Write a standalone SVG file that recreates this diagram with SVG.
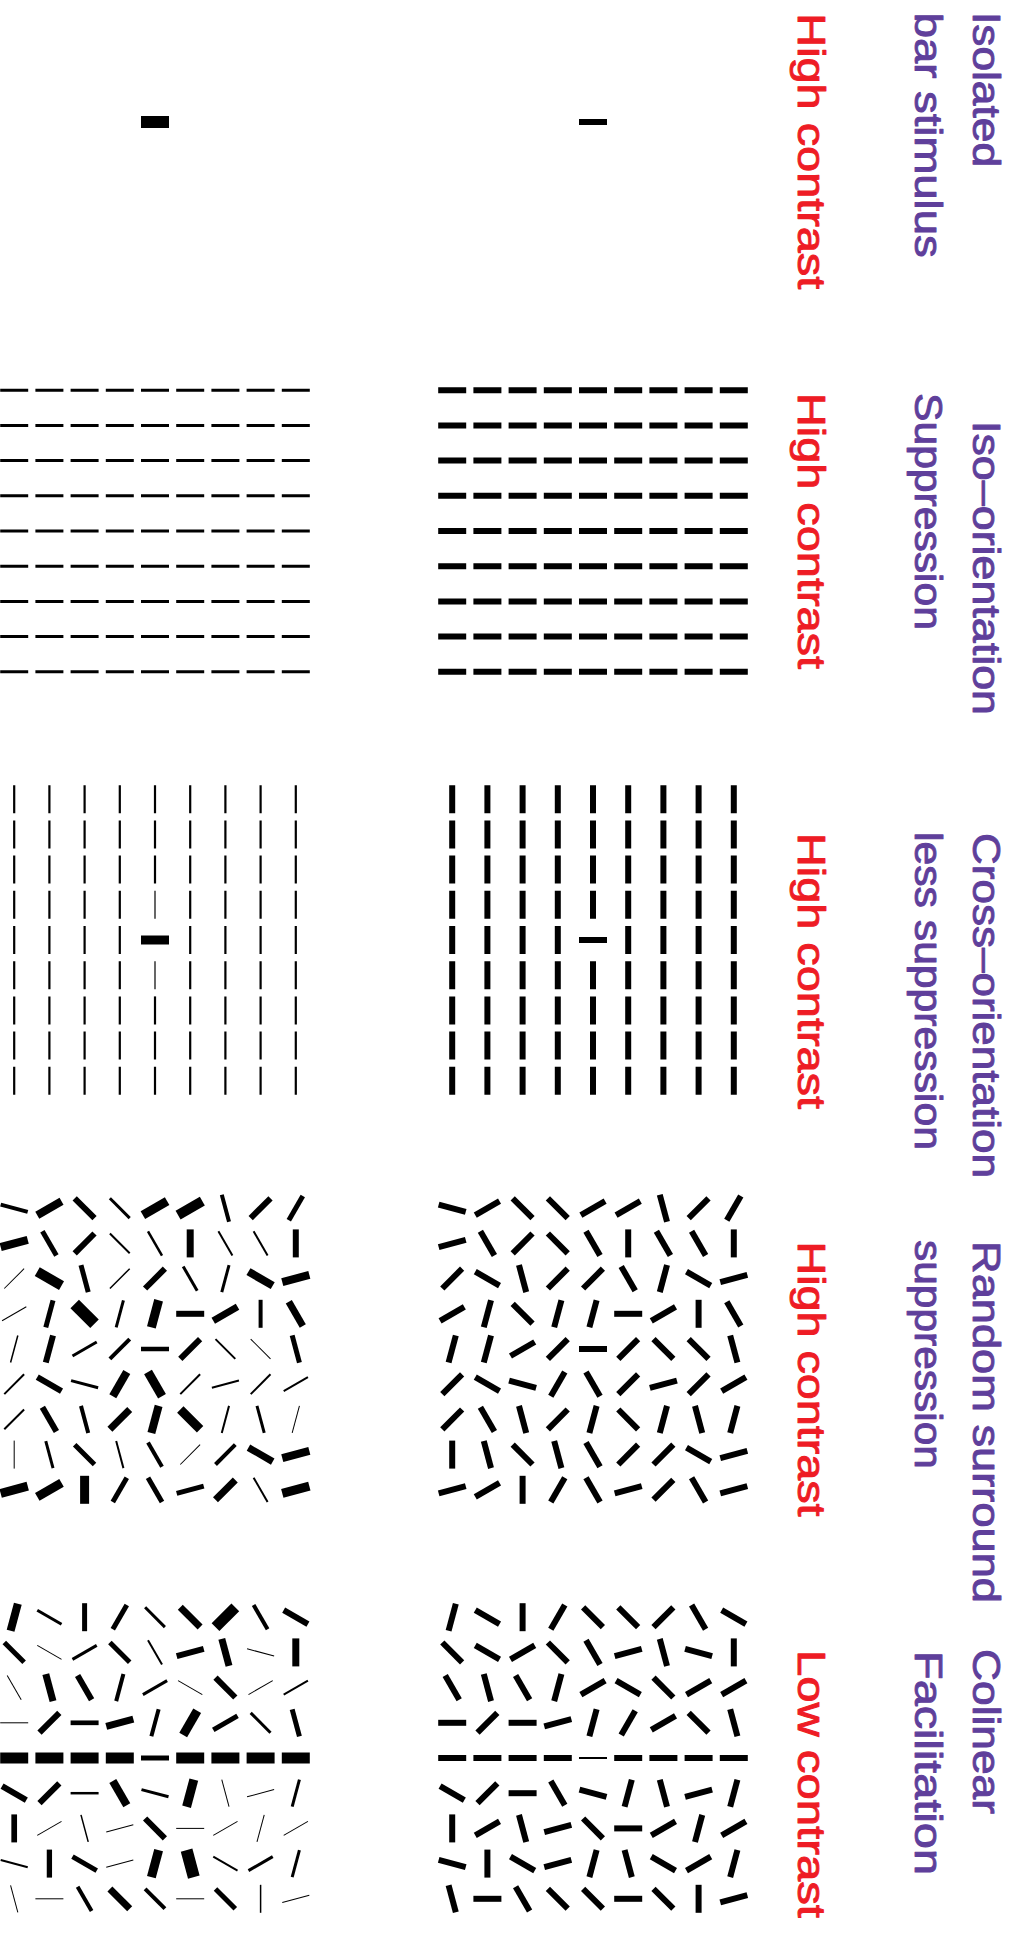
<svg xmlns="http://www.w3.org/2000/svg" xmlns:xlink="http://www.w3.org/1999/xlink" width="1012" height="1944" viewBox="0 0 1012 1944">
<style>
.t{font-family:"Liberation Sans",Arial,sans-serif;font-size:38px;stroke-width:0.9px;stroke-linejoin:round}
.p{fill:#5f3f9b;stroke:#5f3f9b}
.r{fill:#ee1c25;stroke:#ee1c25}
.g{stroke:#000;stroke-linecap:butt;fill:none}
.d{stroke-dasharray:28 7.2}
</style>
<defs><line id="s" x1="-14" y1="0" x2="14" y2="0"/></defs>
<rect width="1012" height="1944" fill="#fff"/>

<g id="labels">
<text class="t p" transform="translate(973,12) rotate(90)" textLength="155" lengthAdjust="spacingAndGlyphs">Isolated</text>
<text class="t p" transform="translate(915,12.7) rotate(90)" textLength="245" lengthAdjust="spacingAndGlyphs">bar stimulus</text>
<text class="t r" transform="translate(798,13.3) rotate(90)" textLength="276" lengthAdjust="spacingAndGlyphs">High contrast</text>
<text class="t p" transform="translate(973,421) rotate(90)" textLength="294" lengthAdjust="spacingAndGlyphs">Iso–orientation</text>
<text class="t p" transform="translate(915,393) rotate(90)" textLength="237" lengthAdjust="spacingAndGlyphs">Suppression</text>
<text class="t r" transform="translate(798,393) rotate(90)" textLength="276" lengthAdjust="spacingAndGlyphs">High contrast</text>
<text class="t p" transform="translate(973,833) rotate(90)" textLength="345" lengthAdjust="spacingAndGlyphs">Cross–orientation</text>
<text class="t p" transform="translate(915,832) rotate(90)" textLength="318" lengthAdjust="spacingAndGlyphs">less suppression</text>
<text class="t r" transform="translate(798,833) rotate(90)" textLength="276" lengthAdjust="spacingAndGlyphs">High contrast</text>
<text class="t p" transform="translate(973,1241) rotate(90)" textLength="362" lengthAdjust="spacingAndGlyphs">Random surround</text>
<text class="t p" transform="translate(915,1240) rotate(90)" textLength="229" lengthAdjust="spacingAndGlyphs">suppression</text>
<text class="t r" transform="translate(798,1241.5) rotate(90)" textLength="275" lengthAdjust="spacingAndGlyphs">High contrast</text>
<text class="t p" transform="translate(973,1649) rotate(90)" textLength="165" lengthAdjust="spacingAndGlyphs">Colinear</text>
<text class="t p" transform="translate(915,1651) rotate(90)" textLength="224" lengthAdjust="spacingAndGlyphs">Facilitation</text>
<text class="t r" transform="translate(798,1650) rotate(90)" textLength="268" lengthAdjust="spacingAndGlyphs">Low contrast</text>
</g>

<g id="panel1" class="g">
<line x1="141" y1="122" x2="169" y2="122" stroke-width="12"/>
<line x1="579" y1="122" x2="607" y2="122" stroke-width="6"/>
</g>

<g id="panel2" class="g d">
<g stroke-width="3">
<line x1="0.2" y1="390.2" x2="309.8" y2="390.2"/>
<line x1="0.2" y1="425.4" x2="309.8" y2="425.4"/>
<line x1="0.2" y1="460.6" x2="309.8" y2="460.6"/>
<line x1="0.2" y1="495.8" x2="309.8" y2="495.8"/>
<line x1="0.2" y1="531" x2="309.8" y2="531"/>
<line x1="0.2" y1="566.2" x2="309.8" y2="566.2"/>
<line x1="0.2" y1="601.4" x2="309.8" y2="601.4"/>
<line x1="0.2" y1="636.6" x2="309.8" y2="636.6"/>
<line x1="0.2" y1="671.8" x2="309.8" y2="671.8"/>
</g>
<g stroke-width="6">
<line x1="438.2" y1="390.2" x2="747.8" y2="390.2"/>
<line x1="438.2" y1="425.4" x2="747.8" y2="425.4"/>
<line x1="438.2" y1="460.6" x2="747.8" y2="460.6"/>
<line x1="438.2" y1="495.8" x2="747.8" y2="495.8"/>
<line x1="438.2" y1="531" x2="747.8" y2="531"/>
<line x1="438.2" y1="566.2" x2="747.8" y2="566.2"/>
<line x1="438.2" y1="601.4" x2="747.8" y2="601.4"/>
<line x1="438.2" y1="636.6" x2="747.8" y2="636.6"/>
<line x1="438.2" y1="671.8" x2="747.8" y2="671.8"/>
</g>
</g>

<g id="panel3" class="g">
<g class="d" stroke-width="2.2">
<line x1="14.2" y1="785.2" x2="14.2" y2="1094.8"/>
<line x1="49.4" y1="785.2" x2="49.4" y2="1094.8"/>
<line x1="84.6" y1="785.2" x2="84.6" y2="1094.8"/>
<line x1="119.8" y1="785.2" x2="119.8" y2="1094.8"/>
<line x1="190.2" y1="785.2" x2="190.2" y2="1094.8"/>
<line x1="225.4" y1="785.2" x2="225.4" y2="1094.8"/>
<line x1="260.6" y1="785.2" x2="260.6" y2="1094.8"/>
<line x1="295.8" y1="785.2" x2="295.8" y2="1094.8"/>
<line x1="155" y1="785.2" x2="155" y2="883.6"/>
<line x1="155" y1="996.4" x2="155" y2="1094.8"/>
</g>
<line x1="155" y1="890.8" x2="155" y2="918.8" stroke-width="1.2"/>
<line x1="155" y1="961.2" x2="155" y2="989.2" stroke-width="1.2"/>
<line x1="141" y1="940" x2="169" y2="940" stroke-width="9"/>
<g class="d" stroke-width="6">
<line x1="452.2" y1="785.2" x2="452.2" y2="1094.8"/>
<line x1="487.4" y1="785.2" x2="487.4" y2="1094.8"/>
<line x1="522.6" y1="785.2" x2="522.6" y2="1094.8"/>
<line x1="557.8" y1="785.2" x2="557.8" y2="1094.8"/>
<line x1="628.2" y1="785.2" x2="628.2" y2="1094.8"/>
<line x1="663.4" y1="785.2" x2="663.4" y2="1094.8"/>
<line x1="698.6" y1="785.2" x2="698.6" y2="1094.8"/>
<line x1="733.8" y1="785.2" x2="733.8" y2="1094.8"/>
<line x1="593" y1="785.2" x2="593" y2="918.8"/>
<line x1="593" y1="961.2" x2="593" y2="1094.8"/>
</g>
<line x1="579" y1="940" x2="607" y2="940" stroke-width="6"/>
</g>

<g id="panel4" class="g">
<g id="p4right" stroke-width="6">
<use href="#s" transform="translate(452.2,1208.2) rotate(15)"/><use href="#s" transform="translate(487.4,1208.2) rotate(-30)"/><use href="#s" transform="translate(522.6,1208.2) rotate(45)"/><use href="#s" transform="translate(557.8,1208.2) rotate(45)"/><use href="#s" transform="translate(593,1208.2) rotate(-30)"/><use href="#s" transform="translate(628.2,1208.2) rotate(-30)"/><use href="#s" transform="translate(663.4,1208.2) rotate(75)"/><use href="#s" transform="translate(698.6,1208.2) rotate(-45)"/><use href="#s" transform="translate(733.8,1208.2) rotate(-60)"/>
<use href="#s" transform="translate(452.2,1243.4) rotate(-15)"/><use href="#s" transform="translate(487.4,1243.4) rotate(60)"/><use href="#s" transform="translate(522.6,1243.4) rotate(-45)"/><use href="#s" transform="translate(557.8,1243.4) rotate(45)"/><use href="#s" transform="translate(593,1243.4) rotate(60)"/><use href="#s" transform="translate(628.2,1243.4) rotate(90)"/><use href="#s" transform="translate(663.4,1243.4) rotate(60)"/><use href="#s" transform="translate(698.6,1243.4) rotate(60)"/><use href="#s" transform="translate(733.8,1243.4) rotate(90)"/>
<use href="#s" transform="translate(452.2,1278.6) rotate(-45)"/><use href="#s" transform="translate(487.4,1278.6) rotate(30)"/><use href="#s" transform="translate(522.6,1278.6) rotate(75)"/><use href="#s" transform="translate(557.8,1278.6) rotate(-45)"/><use href="#s" transform="translate(593,1278.6) rotate(-45)"/><use href="#s" transform="translate(628.2,1278.6) rotate(60)"/><use href="#s" transform="translate(663.4,1278.6) rotate(-75)"/><use href="#s" transform="translate(698.6,1278.6) rotate(30)"/><use href="#s" transform="translate(733.8,1278.6) rotate(-15)"/>
<use href="#s" transform="translate(452.2,1313.8) rotate(-30)"/><use href="#s" transform="translate(487.4,1313.8) rotate(-75)"/><use href="#s" transform="translate(522.6,1313.8) rotate(45)"/><use href="#s" transform="translate(557.8,1313.8) rotate(-75)"/><use href="#s" transform="translate(593,1313.8) rotate(-75)"/><use href="#s" transform="translate(628.2,1313.8)"/><use href="#s" transform="translate(663.4,1313.8) rotate(-30)"/><use href="#s" transform="translate(698.6,1313.8) rotate(90)"/><use href="#s" transform="translate(733.8,1313.8) rotate(60)"/>
<use href="#s" transform="translate(452.2,1349) rotate(-75)"/><use href="#s" transform="translate(487.4,1349) rotate(-75)"/><use href="#s" transform="translate(522.6,1349) rotate(-30)"/><use href="#s" transform="translate(557.8,1349) rotate(-45)"/><use href="#s" transform="translate(593,1349)"/><use href="#s" transform="translate(628.2,1349) rotate(-45)"/><use href="#s" transform="translate(663.4,1349) rotate(45)"/><use href="#s" transform="translate(698.6,1349) rotate(45)"/><use href="#s" transform="translate(733.8,1349) rotate(75)"/>
<use href="#s" transform="translate(452.2,1384.2) rotate(-45)"/><use href="#s" transform="translate(487.4,1384.2) rotate(30)"/><use href="#s" transform="translate(522.6,1384.2) rotate(15)"/><use href="#s" transform="translate(557.8,1384.2) rotate(-60)"/><use href="#s" transform="translate(593,1384.2) rotate(60)"/><use href="#s" transform="translate(628.2,1384.2) rotate(-45)"/><use href="#s" transform="translate(663.4,1384.2) rotate(-15)"/><use href="#s" transform="translate(698.6,1384.2) rotate(-45)"/><use href="#s" transform="translate(733.8,1384.2) rotate(-30)"/>
<use href="#s" transform="translate(452.2,1419.4) rotate(-45)"/><use href="#s" transform="translate(487.4,1419.4) rotate(60)"/><use href="#s" transform="translate(522.6,1419.4) rotate(75)"/><use href="#s" transform="translate(557.8,1419.4) rotate(-45)"/><use href="#s" transform="translate(593,1419.4) rotate(-75)"/><use href="#s" transform="translate(628.2,1419.4) rotate(45)"/><use href="#s" transform="translate(663.4,1419.4) rotate(-75)"/><use href="#s" transform="translate(698.6,1419.4) rotate(75)"/><use href="#s" transform="translate(733.8,1419.4) rotate(-75)"/>
<use href="#s" transform="translate(452.2,1454.6) rotate(90)"/><use href="#s" transform="translate(487.4,1454.6) rotate(75)"/><use href="#s" transform="translate(522.6,1454.6) rotate(45)"/><use href="#s" transform="translate(557.8,1454.6) rotate(75)"/><use href="#s" transform="translate(593,1454.6) rotate(60)"/><use href="#s" transform="translate(628.2,1454.6) rotate(-45)"/><use href="#s" transform="translate(663.4,1454.6) rotate(-45)"/><use href="#s" transform="translate(698.6,1454.6) rotate(30)"/><use href="#s" transform="translate(733.8,1454.6) rotate(-15)"/>
<use href="#s" transform="translate(452.2,1489.8) rotate(-15)"/><use href="#s" transform="translate(487.4,1489.8) rotate(-30)"/><use href="#s" transform="translate(522.6,1489.8) rotate(90)"/><use href="#s" transform="translate(557.8,1489.8) rotate(-60)"/><use href="#s" transform="translate(593,1489.8) rotate(60)"/><use href="#s" transform="translate(628.2,1489.8) rotate(-15)"/><use href="#s" transform="translate(663.4,1489.8) rotate(-45)"/><use href="#s" transform="translate(698.6,1489.8) rotate(60)"/><use href="#s" transform="translate(733.8,1489.8) rotate(-15)"/>
</g>
<g id="p4left">
<use href="#s" stroke-width="4" transform="translate(14.2,1208.2) rotate(15)"/><use href="#s" stroke-width="8" transform="translate(49.4,1208.2) rotate(-30)"/><use href="#s" stroke-width="6" transform="translate(84.6,1208.2) rotate(45)"/><use href="#s" stroke-width="3" transform="translate(119.8,1208.2) rotate(45)"/><use href="#s" stroke-width="9" transform="translate(155,1208.2) rotate(-30)"/><use href="#s" stroke-width="10" transform="translate(190.2,1208.2) rotate(-30)"/><use href="#s" stroke-width="4" transform="translate(225.4,1208.2) rotate(75)"/><use href="#s" stroke-width="6" transform="translate(260.6,1208.2) rotate(-45)"/><use href="#s" stroke-width="5" transform="translate(295.8,1208.2) rotate(-60)"/>
<use href="#s" stroke-width="8" transform="translate(14.2,1243.4) rotate(-15)"/><use href="#s" stroke-width="5" transform="translate(49.4,1243.4) rotate(60)"/><use href="#s" stroke-width="6" transform="translate(84.6,1243.4) rotate(-45)"/><use href="#s" stroke-width="2" transform="translate(119.8,1243.4) rotate(45)"/><use href="#s" stroke-width="2.5" transform="translate(155,1243.4) rotate(60)"/><use href="#s" stroke-width="7" transform="translate(190.2,1243.4) rotate(90)"/><use href="#s" stroke-width="2" transform="translate(225.4,1243.4) rotate(60)"/><use href="#s" stroke-width="2" transform="translate(260.6,1243.4) rotate(60)"/><use href="#s" stroke-width="6" transform="translate(295.8,1243.4) rotate(90)"/>
<use href="#s" stroke-width="1" transform="translate(14.2,1278.6) rotate(-45)"/><use href="#s" stroke-width="10" transform="translate(49.4,1278.6) rotate(30)"/><use href="#s" stroke-width="5" transform="translate(84.6,1278.6) rotate(75)"/><use href="#s" stroke-width="1.5" transform="translate(119.8,1278.6) rotate(-45)"/><use href="#s" stroke-width="6" transform="translate(155,1278.6) rotate(-45)"/><use href="#s" stroke-width="3" transform="translate(190.2,1278.6) rotate(60)"/><use href="#s" stroke-width="3" transform="translate(225.4,1278.6) rotate(-75)"/><use href="#s" stroke-width="8" transform="translate(260.6,1278.6) rotate(30)"/><use href="#s" stroke-width="8" transform="translate(295.8,1278.6) rotate(-15)"/>
<use href="#s" stroke-width="1" transform="translate(14.2,1313.8) rotate(-30)"/><use href="#s" stroke-width="5" transform="translate(49.4,1313.8) rotate(-75)"/><use href="#s" stroke-width="12" transform="translate(84.6,1313.8) rotate(45)"/><use href="#s" stroke-width="3" transform="translate(119.8,1313.8) rotate(-75)"/><use href="#s" stroke-width="9" transform="translate(155,1313.8) rotate(-75)"/><use href="#s" stroke-width="6" transform="translate(190.2,1313.8)"/><use href="#s" stroke-width="7" transform="translate(225.4,1313.8) rotate(-30)"/><use href="#s" stroke-width="4" transform="translate(260.6,1313.8) rotate(90)"/><use href="#s" stroke-width="7" transform="translate(295.8,1313.8) rotate(60)"/>
<use href="#s" stroke-width="1.5" transform="translate(14.2,1349) rotate(-75)"/><use href="#s" stroke-width="6" transform="translate(49.4,1349) rotate(-75)"/><use href="#s" stroke-width="3" transform="translate(84.6,1349) rotate(-30)"/><use href="#s" stroke-width="4" transform="translate(119.8,1349) rotate(-45)"/><use href="#s" stroke-width="4.5" transform="translate(155,1349)"/><use href="#s" stroke-width="6" transform="translate(190.2,1349) rotate(-45)"/><use href="#s" stroke-width="2" transform="translate(225.4,1349) rotate(45)"/><use href="#s" stroke-width="1" transform="translate(260.6,1349) rotate(45)"/><use href="#s" stroke-width="5" transform="translate(295.8,1349) rotate(75)"/>
<use href="#s" stroke-width="2" transform="translate(14.2,1384.2) rotate(-45)"/><use href="#s" stroke-width="6" transform="translate(49.4,1384.2) rotate(30)"/><use href="#s" stroke-width="3" transform="translate(84.6,1384.2) rotate(15)"/><use href="#s" stroke-width="8" transform="translate(119.8,1384.2) rotate(-60)"/><use href="#s" stroke-width="9" transform="translate(155,1384.2) rotate(60)"/><use href="#s" stroke-width="2" transform="translate(190.2,1384.2) rotate(-45)"/><use href="#s" stroke-width="2" transform="translate(225.4,1384.2) rotate(-15)"/><use href="#s" stroke-width="2" transform="translate(260.6,1384.2) rotate(-45)"/><use href="#s" stroke-width="2" transform="translate(295.8,1384.2) rotate(-30)"/>
<use href="#s" stroke-width="2" transform="translate(14.2,1419.4) rotate(-45)"/><use href="#s" stroke-width="6" transform="translate(49.4,1419.4) rotate(60)"/><use href="#s" stroke-width="4" transform="translate(84.6,1419.4) rotate(75)"/><use href="#s" stroke-width="7" transform="translate(119.8,1419.4) rotate(-45)"/><use href="#s" stroke-width="8" transform="translate(155,1419.4) rotate(-75)"/><use href="#s" stroke-width="9" transform="translate(190.2,1419.4) rotate(45)"/><use href="#s" stroke-width="2" transform="translate(225.4,1419.4) rotate(-75)"/><use href="#s" stroke-width="3" transform="translate(260.6,1419.4) rotate(75)"/><use href="#s" stroke-width="1" transform="translate(295.8,1419.4) rotate(-75)"/>
<use href="#s" stroke-width="1" transform="translate(14.2,1454.6) rotate(90)"/><use href="#s" stroke-width="3" transform="translate(49.4,1454.6) rotate(75)"/><use href="#s" stroke-width="5" transform="translate(84.6,1454.6) rotate(45)"/><use href="#s" stroke-width="2" transform="translate(119.8,1454.6) rotate(75)"/><use href="#s" stroke-width="4" transform="translate(155,1454.6) rotate(60)"/><use href="#s" stroke-width="1" transform="translate(190.2,1454.6) rotate(-45)"/><use href="#s" stroke-width="4" transform="translate(225.4,1454.6) rotate(-45)"/><use href="#s" stroke-width="7" transform="translate(260.6,1454.6) rotate(30)"/><use href="#s" stroke-width="8" transform="translate(295.8,1454.6) rotate(-15)"/>
<use href="#s" stroke-width="9" transform="translate(14.2,1489.8) rotate(-15)"/><use href="#s" stroke-width="9" transform="translate(49.4,1489.8) rotate(-30)"/><use href="#s" stroke-width="9" transform="translate(84.6,1489.8) rotate(90)"/><use href="#s" stroke-width="5" transform="translate(119.8,1489.8) rotate(-60)"/><use href="#s" stroke-width="5" transform="translate(155,1489.8) rotate(60)"/><use href="#s" stroke-width="5" transform="translate(190.2,1489.8) rotate(-15)"/><use href="#s" stroke-width="7" transform="translate(225.4,1489.8) rotate(-45)"/><use href="#s" stroke-width="2" transform="translate(260.6,1489.8) rotate(60)"/><use href="#s" stroke-width="9" transform="translate(295.8,1489.8) rotate(-15)"/>
</g>
</g>

<g id="panel5" class="g">
<g id="p5right" stroke-width="6">
<use href="#s" transform="translate(452.2,1617.2) rotate(-75)"/><use href="#s" transform="translate(487.4,1617.2) rotate(30)"/><use href="#s" transform="translate(522.6,1617.2) rotate(90)"/><use href="#s" transform="translate(557.8,1617.2) rotate(-60)"/><use href="#s" transform="translate(593,1617.2) rotate(45)"/><use href="#s" transform="translate(628.2,1617.2) rotate(45)"/><use href="#s" transform="translate(663.4,1617.2) rotate(-45)"/><use href="#s" transform="translate(698.6,1617.2) rotate(60)"/><use href="#s" transform="translate(733.8,1617.2) rotate(30)"/>
<use href="#s" transform="translate(452.2,1652.4) rotate(45)"/><use href="#s" transform="translate(487.4,1652.4) rotate(30)"/><use href="#s" transform="translate(522.6,1652.4) rotate(-30)"/><use href="#s" transform="translate(557.8,1652.4) rotate(45)"/><use href="#s" transform="translate(593,1652.4) rotate(60)"/><use href="#s" transform="translate(628.2,1652.4) rotate(-15)"/><use href="#s" transform="translate(663.4,1652.4) rotate(75)"/><use href="#s" transform="translate(698.6,1652.4) rotate(15)"/><use href="#s" transform="translate(733.8,1652.4) rotate(90)"/>
<use href="#s" transform="translate(452.2,1687.6) rotate(60)"/><use href="#s" transform="translate(487.4,1687.6) rotate(75)"/><use href="#s" transform="translate(522.6,1687.6) rotate(60)"/><use href="#s" transform="translate(557.8,1687.6) rotate(-75)"/><use href="#s" transform="translate(593,1687.6) rotate(-30)"/><use href="#s" transform="translate(628.2,1687.6) rotate(30)"/><use href="#s" transform="translate(663.4,1687.6) rotate(45)"/><use href="#s" transform="translate(698.6,1687.6) rotate(-30)"/><use href="#s" transform="translate(733.8,1687.6) rotate(-30)"/>
<use href="#s" transform="translate(452.2,1722.8)"/><use href="#s" transform="translate(487.4,1722.8) rotate(-45)"/><use href="#s" transform="translate(522.6,1722.8)"/><use href="#s" transform="translate(557.8,1722.8) rotate(-15)"/><use href="#s" transform="translate(593,1722.8) rotate(-75)"/><use href="#s" transform="translate(628.2,1722.8) rotate(-60)"/><use href="#s" transform="translate(663.4,1722.8) rotate(-30)"/><use href="#s" transform="translate(698.6,1722.8) rotate(45)"/><use href="#s" transform="translate(733.8,1722.8) rotate(75)"/>
<use href="#s" transform="translate(452.2,1758)"/><use href="#s" transform="translate(487.4,1758)"/><use href="#s" transform="translate(522.6,1758)"/><use href="#s" transform="translate(557.8,1758)"/><use href="#s" stroke-width="2" transform="translate(593,1758)"/><use href="#s" transform="translate(628.2,1758)"/><use href="#s" transform="translate(663.4,1758)"/><use href="#s" transform="translate(698.6,1758)"/><use href="#s" transform="translate(733.8,1758)"/>
<use href="#s" transform="translate(452.2,1793.2) rotate(30)"/><use href="#s" transform="translate(487.4,1793.2) rotate(-45)"/><use href="#s" transform="translate(522.6,1793.2)"/><use href="#s" transform="translate(557.8,1793.2) rotate(60)"/><use href="#s" transform="translate(593,1793.2) rotate(15)"/><use href="#s" transform="translate(628.2,1793.2) rotate(-75)"/><use href="#s" transform="translate(663.4,1793.2) rotate(75)"/><use href="#s" transform="translate(698.6,1793.2) rotate(-15)"/><use href="#s" transform="translate(733.8,1793.2) rotate(-75)"/>
<use href="#s" transform="translate(452.2,1828.4) rotate(90)"/><use href="#s" transform="translate(487.4,1828.4) rotate(-30)"/><use href="#s" transform="translate(522.6,1828.4) rotate(75)"/><use href="#s" transform="translate(557.8,1828.4) rotate(-15)"/><use href="#s" transform="translate(593,1828.4) rotate(45)"/><use href="#s" transform="translate(628.2,1828.4)"/><use href="#s" transform="translate(663.4,1828.4) rotate(-30)"/><use href="#s" transform="translate(698.6,1828.4) rotate(-75)"/><use href="#s" transform="translate(733.8,1828.4) rotate(-30)"/>
<use href="#s" transform="translate(452.2,1863.6) rotate(15)"/><use href="#s" transform="translate(487.4,1863.6) rotate(90)"/><use href="#s" transform="translate(522.6,1863.6) rotate(30)"/><use href="#s" transform="translate(557.8,1863.6) rotate(-15)"/><use href="#s" transform="translate(593,1863.6) rotate(-75)"/><use href="#s" transform="translate(628.2,1863.6) rotate(75)"/><use href="#s" transform="translate(663.4,1863.6) rotate(30)"/><use href="#s" transform="translate(698.6,1863.6) rotate(-30)"/><use href="#s" transform="translate(733.8,1863.6) rotate(-75)"/>
<use href="#s" transform="translate(452.2,1898.8) rotate(75)"/><use href="#s" transform="translate(487.4,1898.8)"/><use href="#s" transform="translate(522.6,1898.8) rotate(60)"/><use href="#s" transform="translate(557.8,1898.8) rotate(45)"/><use href="#s" transform="translate(593,1898.8) rotate(45)"/><use href="#s" transform="translate(628.2,1898.8)"/><use href="#s" transform="translate(663.4,1898.8) rotate(45)"/><use href="#s" transform="translate(698.6,1898.8) rotate(90)"/><use href="#s" transform="translate(733.8,1898.8) rotate(-15)"/>
</g>
<g id="p5left">
<use href="#s" stroke-width="8" transform="translate(14.2,1617.2) rotate(-75)"/><use href="#s" stroke-width="3" transform="translate(49.4,1617.2) rotate(30)"/><use href="#s" stroke-width="5" transform="translate(84.6,1617.2) rotate(90)"/><use href="#s" stroke-width="5" transform="translate(119.8,1617.2) rotate(-60)"/><use href="#s" stroke-width="3" transform="translate(155,1617.2) rotate(45)"/><use href="#s" stroke-width="7" transform="translate(190.2,1617.2) rotate(45)"/><use href="#s" stroke-width="11" transform="translate(225.4,1617.2) rotate(-45)"/><use href="#s" stroke-width="4" transform="translate(260.6,1617.2) rotate(60)"/><use href="#s" stroke-width="6" transform="translate(295.8,1617.2) rotate(30)"/>
<use href="#s" stroke-width="5" transform="translate(14.2,1652.4) rotate(45)"/><use href="#s" stroke-width="1" transform="translate(49.4,1652.4) rotate(30)"/><use href="#s" stroke-width="3" transform="translate(84.6,1652.4) rotate(-30)"/><use href="#s" stroke-width="5" transform="translate(119.8,1652.4) rotate(45)"/><use href="#s" stroke-width="2" transform="translate(155,1652.4) rotate(60)"/><use href="#s" stroke-width="6" transform="translate(190.2,1652.4) rotate(-15)"/><use href="#s" stroke-width="7" transform="translate(225.4,1652.4) rotate(75)"/><use href="#s" stroke-width="1" transform="translate(260.6,1652.4) rotate(15)"/><use href="#s" stroke-width="7" transform="translate(295.8,1652.4) rotate(90)"/>
<use href="#s" stroke-width="1" transform="translate(14.2,1687.6) rotate(60)"/><use href="#s" stroke-width="7" transform="translate(49.4,1687.6) rotate(75)"/><use href="#s" stroke-width="6" transform="translate(84.6,1687.6) rotate(60)"/><use href="#s" stroke-width="4" transform="translate(119.8,1687.6) rotate(-75)"/><use href="#s" stroke-width="3" transform="translate(155,1687.6) rotate(-30)"/><use href="#s" stroke-width="1" transform="translate(190.2,1687.6) rotate(30)"/><use href="#s" stroke-width="6" transform="translate(225.4,1687.6) rotate(45)"/><use href="#s" stroke-width="1" transform="translate(260.6,1687.6) rotate(-30)"/><use href="#s" stroke-width="2" transform="translate(295.8,1687.6) rotate(-30)"/>
<use href="#s" stroke-width="1" transform="translate(14.2,1722.8)"/><use href="#s" stroke-width="6" transform="translate(49.4,1722.8) rotate(-45)"/><use href="#s" stroke-width="4.7" transform="translate(84.6,1722.8)"/><use href="#s" stroke-width="7" transform="translate(119.8,1722.8) rotate(-15)"/><use href="#s" stroke-width="4" transform="translate(155,1722.8) rotate(-75)"/><use href="#s" stroke-width="9" transform="translate(190.2,1722.8) rotate(-60)"/><use href="#s" stroke-width="5" transform="translate(225.4,1722.8) rotate(-30)"/><use href="#s" stroke-width="3" transform="translate(260.6,1722.8) rotate(45)"/><use href="#s" stroke-width="5" transform="translate(295.8,1722.8) rotate(75)"/>
<use href="#s" stroke-width="11" transform="translate(14.2,1758)"/><use href="#s" stroke-width="11" transform="translate(49.4,1758)"/><use href="#s" stroke-width="11" transform="translate(84.6,1758)"/><use href="#s" stroke-width="11" transform="translate(119.8,1758)"/><use href="#s" stroke-width="5" transform="translate(155,1758)"/><use href="#s" stroke-width="11" transform="translate(190.2,1758)"/><use href="#s" stroke-width="11" transform="translate(225.4,1758)"/><use href="#s" stroke-width="11" transform="translate(260.6,1758)"/><use href="#s" stroke-width="11" transform="translate(295.8,1758)"/>
<use href="#s" stroke-width="6" transform="translate(14.2,1793.2) rotate(30)"/><use href="#s" stroke-width="6" transform="translate(49.4,1793.2) rotate(-45)"/><use href="#s" stroke-width="2.5" transform="translate(84.6,1793.2)"/><use href="#s" stroke-width="8" transform="translate(119.8,1793.2) rotate(60)"/><use href="#s" stroke-width="3" transform="translate(155,1793.2) rotate(15)"/><use href="#s" stroke-width="9" transform="translate(190.2,1793.2) rotate(-75)"/><use href="#s" stroke-width="1" transform="translate(225.4,1793.2) rotate(75)"/><use href="#s" stroke-width="1" transform="translate(260.6,1793.2) rotate(-15)"/><use href="#s" stroke-width="3" transform="translate(295.8,1793.2) rotate(-75)"/>
<use href="#s" stroke-width="5.7" transform="translate(14.2,1828.4) rotate(90)"/><use href="#s" stroke-width="1" transform="translate(49.4,1828.4) rotate(-30)"/><use href="#s" stroke-width="1.5" transform="translate(84.6,1828.4) rotate(75)"/><use href="#s" stroke-width="1" transform="translate(119.8,1828.4) rotate(-15)"/><use href="#s" stroke-width="6" transform="translate(155,1828.4) rotate(45)"/><use href="#s" stroke-width="1" transform="translate(190.2,1828.4)"/><use href="#s" stroke-width="1" transform="translate(225.4,1828.4) rotate(-30)"/><use href="#s" stroke-width="1" transform="translate(260.6,1828.4) rotate(-75)"/><use href="#s" stroke-width="1" transform="translate(295.8,1828.4) rotate(-30)"/>
<use href="#s" stroke-width="2" transform="translate(14.2,1863.6) rotate(15)"/><use href="#s" stroke-width="5.3" transform="translate(49.4,1863.6) rotate(90)"/><use href="#s" stroke-width="5" transform="translate(84.6,1863.6) rotate(30)"/><use href="#s" stroke-width="1" transform="translate(119.8,1863.6) rotate(-15)"/><use href="#s" stroke-width="9" transform="translate(155,1863.6) rotate(-75)"/><use href="#s" stroke-width="12" transform="translate(190.2,1863.6) rotate(75)"/><use href="#s" stroke-width="2" transform="translate(225.4,1863.6) rotate(30)"/><use href="#s" stroke-width="3" transform="translate(260.6,1863.6) rotate(-30)"/><use href="#s" stroke-width="3" transform="translate(295.8,1863.6) rotate(-75)"/>
<use href="#s" stroke-width="1" transform="translate(14.2,1898.8) rotate(75)"/><use href="#s" stroke-width="1" transform="translate(49.4,1898.8)"/><use href="#s" stroke-width="4" transform="translate(84.6,1898.8) rotate(60)"/><use href="#s" stroke-width="7" transform="translate(119.8,1898.8) rotate(45)"/><use href="#s" stroke-width="4" transform="translate(155,1898.8) rotate(45)"/><use href="#s" stroke-width="1" transform="translate(190.2,1898.8)"/><use href="#s" stroke-width="5" transform="translate(225.4,1898.8) rotate(45)"/><use href="#s" stroke-width="1.5" transform="translate(260.6,1898.8) rotate(90)"/><use href="#s" stroke-width="1" transform="translate(295.8,1898.8) rotate(-15)"/>
</g>
</g>
</svg>
